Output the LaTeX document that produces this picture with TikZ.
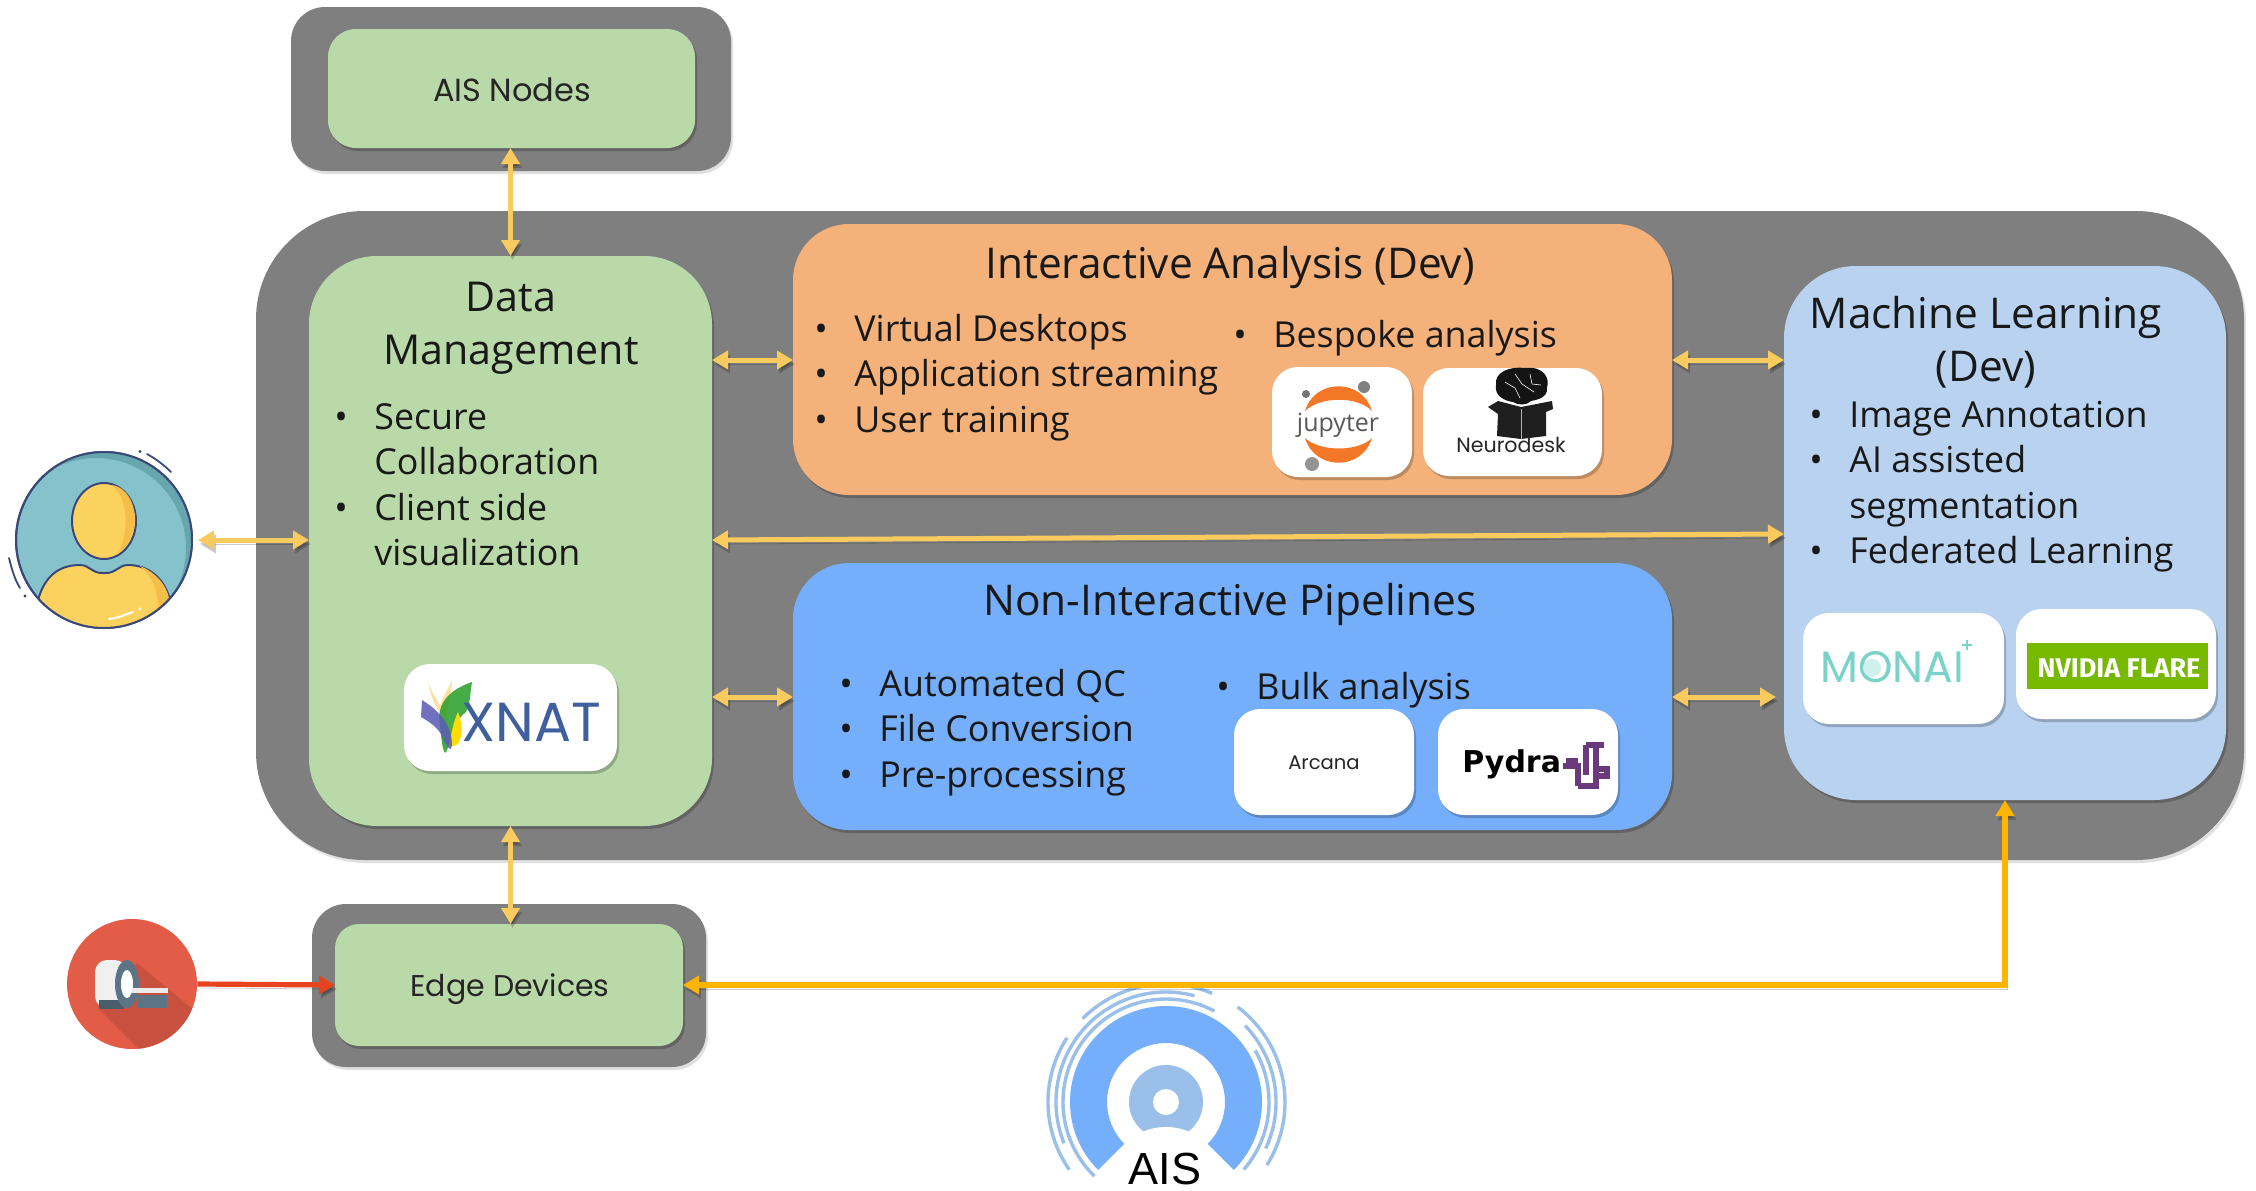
\documentclass[tikz,border=0pt]{standalone}
\usepackage{fontspec}
\setmainfont{Open Sans}
\newfontfamily\geo{Poppins}
\newfontfamily\arl{Liberation Sans}
\newfontfamily\djb{DejaVu Sans}
\newfontfamily\fir{Fira Sans}
\usetikzlibrary{arrows.meta,shadows,fit,calc}
\definecolor{grayb}{HTML}{7F7F7F}
\definecolor{greenb}{HTML}{B9DAA8}
\definecolor{orangeb}{HTML}{F4B17A}
\definecolor{blueb}{HTML}{75AEFB}
\definecolor{mlb}{HTML}{B8D2F0}
\definecolor{yarr}{HTML}{F9CB5E}
\definecolor{oarr}{HTML}{FFB400}
\definecolor{rarr}{HTML}{E8431F}
\definecolor{ring}{HTML}{9ABFE8}
\definecolor{ink}{HTML}{3A4878}
\definecolor{teal1}{HTML}{85C2CB}
\definecolor{teal2}{HTML}{68A6AD}
\definecolor{yel1}{HTML}{FCD25F}
\definecolor{yel2}{HTML}{F5BE4B}
\definecolor{scanr}{HTML}{E25C48}
\definecolor{scand}{HTML}{C85140}
\definecolor{slate}{HTML}{5D7485}
\definecolor{jor}{HTML}{F37726}
\definecolor{monai}{HTML}{7AD3C9}
\definecolor{xnat}{HTML}{3F5F9F}
\definecolor{pyd}{HTML}{6A3A7C}
\definecolor{nvgreen}{HTML}{76B900}
\newlength\bulw \setlength\bulw{17pt}
\newcommand\itm[1]{\makebox[\bulw][l]{\hspace*{-3pt}\textbullet}#1}
\newcommand\cnt[1]{\hspace*{\bulw}#1}
\newcommand\lst[1]{\begin{tabular}[t]{@{}l@{}}#1\end{tabular}}
\newcommand\ctr[1]{\begin{tabular}[t]{@{}c@{}}#1\end{tabular}}
\tikzset{
  x=0.5pt,y=-0.5pt,
  shad/.style={drop shadow={shadow xshift=1pt,shadow yshift=-1.5pt,opacity=.22,fill=black}},
  boxn/.style={inner sep=0pt,outer sep=0pt,draw=none},
  frame/.style={boxn,fill=grayb,drop shadow={shadow xshift=1pt,shadow yshift=-1.5pt,opacity=.12,fill=black}},
  logo/.style={boxn,fill=white,rounded corners=13pt,shad},
  body/.style={inner sep=0pt,anchor=base west,font=\fontsize{17.9}{22.8}\selectfont,text=black!90},
  title/.style={inner sep=0pt,anchor=base,font=\fontsize{21.2}{26.5}\selectfont,text=black!90},
  geol/.style={inner sep=0pt,anchor=center,font=\geo\fontsize{15}{17}\selectfont,text=black!85},
  ashad/.style={preaction={draw=black,opacity=.2,transform canvas={xshift=1pt,yshift=-2pt}}},
  yarrow/.style={draw=yarr,line width=2.5pt,{Triangle[width=9pt,length=8pt]}-{Triangle[width=9pt,length=8pt]},ashad},
  oarrow/.style={draw=oarr,line width=3pt,{Triangle[width=9pt,length=8pt]}-{Triangle[width=9pt,length=8pt]},ashad},
  rarrow/.style={draw=rarr,line width=2.6pt,-{Triangle[width=9pt,length=8pt]},ashad},
  rgarc/.style={draw=ring,line width=1.7pt},
}
\begin{document}
\begin{tikzpicture}
\useasboundingbox (0,0) rectangle (2256,1190);
% frames
\node[frame,rounded corners=54pt,fit={(256,211)(2244,860)}] (main) {};
\node[frame,rounded corners=17pt,fit={(291,7)(731,171)}] (aisout) {};
\node[frame,rounded corners=17pt,fit={(312,904)(706,1067)}] (edgeout) {};
\node[boxn,fill=greenb,rounded corners=14pt,shad,fit={(328,29)(695,148)}] (aisin) {};
\node[boxn,fill=greenb,rounded corners=12pt,shad,fit={(335,924)(683,1046)}] (edgein) {};
\node[geol,font=\geo\fontsize{16}{18}\selectfont] (aistxt) at (512,90) {AIS Nodes};
\node[geol] (edgetxt) at (510,989) {Edge Devices};
% panels
\node[boxn,fill=greenb,rounded corners=34pt,shad,fit={(309,256)(712,826)}] (dm) {};
\node[boxn,fill=orangeb,rounded corners=28pt,shad,fit={(793,224)(1672,495)}] (ia) {};
\node[boxn,fill=blueb,rounded corners=28pt,shad,fit={(793,563)(1672,830)}] (ni) {};
\node[boxn,fill=mlb,rounded corners=36pt,shad,fit={(1784,266)(2226,800)}] (ml) {};
% panel text
\node[title,font=\fontsize{20.6}{26.5}\selectfont] (dmt) at (511,311) {\ctr{Data\\Management}};
\node[title] (iat) at (1230,278) {Interactive Analysis (Dev)};
\node[title] (nit) at (1230,615) {Non-Interactive Pipelines};
\node[title] (mlt) at (1986,328) {\ctr{Machine Learning\\(Dev)}};
\node[body] (dml) at (340,429) {\lst{\itm{Secure}\\\cnt{Collaboration}\\\itm{Client side}\\\cnt{visualization}}};
\node[body] (ial) at (820,341) {\lst{\itm{Virtual Desktops}\\\itm{Application streaming}\\\itm{User training}}};
\node[body] (iab) at (1239,347) {\itm{Bespoke analysis}};
\node[body] (nil) at (845,696) {\lst{\itm{Automated QC}\\\itm{File Conversion}\\\itm{Pre-processing}}};
\node[body] (nib) at (1222,699) {\itm{Bulk analysis}};
\node[body] (mll) at (1815,427) {\lst{\itm{Image Annotation}\\\itm{AI assisted}\\\cnt{segmentation}\\\itm{Federated Learning}}};
% logos
\node[logo,fit={(404,664)(617,771)}] (xnatb) {};
\node[logo,fit={(1272,367)(1412,477)}] (jupb) {};
\node[logo,fit={(1423,368)(1602,476)}] (neub) {};
\node[logo,fit={(1803,613)(2004,724)}] (monb) {};
\node[logo,fit={(2016,609)(2216,719)}] (flab) {};
\node[logo,fit={(1234,709)(1414,815)}] (arcb) {};
\node[logo,fit={(1438,709)(1618,815)}] (pydb) {};
% XNAT
\fill[yellow!40!orange!35] (428,681) .. controls (432,705) and (440,712) .. (446,724) .. controls (448,705) and (452,690) .. (452,681) .. controls (446,692) and (442,700) .. (440,706) .. controls (436,698) and (430,690) .. (428,681) -- cycle;
\fill[green!55!black!85,opacity=.85] (472,682) .. controls (448,690) and (436,705) .. (440,725) .. controls (442,750) and (445,760) .. (448,747) .. controls (452,735) and (455,720) .. (466,712) .. controls (470,705) and (470,695) .. (472,682) -- cycle;
\fill[yellow!80!orange] (458,712) .. controls (465,730) and (462,750) .. (448,746) .. controls (452,735) and (452,725) .. (458,712) -- cycle;
\fill[blue!55!black!65,opacity=.85] (422,700) .. controls (435,708) and (452,722) .. (452,745) .. controls (450,755) and (448,744) .. (444,742) .. controls (442,730) and (430,722) .. (421,717) -- cycle;
\node[inner sep=0pt,anchor=base west,font=\geo\fontsize{27.5}{30}\selectfont,text=xnat] (xnatt) at (461,741) {XNAT};
% Jupyter
\fill[jor] (1305,411) .. controls (1315,378) and (1362,378) .. (1372,411) .. controls (1358,396) and (1320,396) .. (1305,411) -- cycle;
\fill[jor] (1305,438) .. controls (1315,471) and (1362,471) .. (1372,438) .. controls (1358,452) and (1320,452) .. (1305,438) -- cycle;
\fill[black!55] (1306,394) circle[radius=4];
\fill[black!50] (1364,387) circle[radius=6];
\fill[black!42] (1312,464) circle[radius=7];
\node[inner sep=0pt,font=\fontsize{12.5}{14}\selectfont,text=black!65] (jupt) at (1338,425) {jupyter};
% Neurodesk
\fill[black!92] (1496,385) .. controls (1494,372) and (1510,366) .. (1525,368) .. controls (1544,366) and (1550,378) .. (1547,388) .. controls (1548,398) and (1536,400) .. (1531,401) .. controls (1526,406) and (1518,405) .. (1513,402) .. controls (1505,401) and (1494,396) .. (1496,385) -- cycle;
\draw[white,line width=.3pt] (1505,382) -- (1515,388) -- (1520,398) (1515,374) -- (1522,384) -- (1534,392) (1530,374) -- (1532,384) -- (1541,385);
\fill[black!88] (1498,414) -- (1488,407) -- (1498,401) -- (1521,407) -- (1552,401) -- (1553,409) -- (1546,412) -- (1546,436) -- (1521,439) -- (1497,436) -- cycle;
\draw[white!70!black,line width=.4pt] (1521,409) -- (1521,439);
\node[geol,font=\geo\fontsize{10.3}{13}\selectfont] (neut) at (1511,445) {Neurodesk};
% MONAI
\node[inner sep=0pt,anchor=base west,font=\geo\fontsize{22}{24}\selectfont,text=monai] (mont) at (1820,682) {MONAI};
\fill[monai!35] (1872,668) circle[radius=9];
\draw[monai,line width=1pt] (1967,640) -- (1967,650) (1962,645) -- (1972,645);
% NVIDIA FLARE
\node[boxn,fill=nvgreen,fit={(2027,643)(2208,689)}] (flag0) {};
\node[inner sep=0pt,font=\fir\bfseries\fontsize{13.5}{15}\selectfont,text=white] (flat) at (2119,668) {NVIDIA FLARE};
% Arcana, Pydra
\node[geol,font=\geo\fontsize{9.8}{12}\selectfont] (arct) at (1324,763) {Arcana};
\node[inner sep=0pt,anchor=base west,font=\djb\bfseries\fontsize{15}{17}\selectfont,text=black] (pydt) at (1462,772) {Pydra};
\draw[pyd,line width=2.6pt,line cap=butt] (1563,766) -- (1578,766) -- (1578,786) (1566,761) -- (1578,761) (1596,745) -- (1596,786) -- (1578,786) (1586,745) -- (1604,745) (1586,745) -- (1586,775) (1596,769) -- (1607,769) -- (1607,776) -- (1596,776);
% User
\node[circle,inner sep=0pt,minimum size=88pt,draw=ink,line width=1pt,fill=teal1] (user) at (104,540) {};
\begin{scope}
\clip (104,540) circle[radius=88];
\fill[even odd rule,teal2] (104,540) circle[radius=88] (96,548) circle[radius=90];
\path[fill=yel1,draw=ink,line width=1pt] (38,600) .. controls (45,575) and (60,565) .. (80,565) .. controls (90,565) and (92,574) .. (104,573) .. controls (116,574) and (118,565) .. (128,565) .. controls (150,565) and (165,580) .. (170,600) -- (170,640) -- (38,640) -- cycle;
\fill[yel2] (140,566) .. controls (155,572) and (166,584) .. (169,598) -- (158,610) .. controls (158,590) and (152,576) .. (140,566) -- cycle;
\end{scope}
\draw[ink,line width=1pt] (104,540) circle[radius=88];
\draw[fill=yel1,draw=ink,line width=1pt] (104,521) ellipse[x radius=32,y radius=38];
\fill[yel2] (112,485) .. controls (130,488) and (136,510) .. (135,522) .. controls (134,536) and (126,548) .. (118,554) .. controls (128,535) and (130,500) .. (112,485) -- cycle;
\draw[white,line width=1pt,line cap=round] (109,619) .. controls (118,618) and (124,615) .. (133,612);
\fill[white] (140,609) circle[radius=1.6];
\draw[ink,line width=.9pt,line cap=round] (147,454) .. controls (156,459) and (164,465) .. (171,472);
\fill[ink] (140,451.5) circle[radius=1.6];
\draw[ink,line width=.9pt,line cap=round] (9,558) .. controls (12,570) and (15,580) .. (20,588);
\fill[ink] (25,596) circle[radius=1.6];
% Scanner
\node[circle,inner sep=0pt,minimum size=65pt,fill=scanr] (scan) at (132,984) {};
\begin{scope}
\clip (132,984) circle[radius=65];
\fill[scand] (137,963) -- (200,1015) -- (200,1060) -- (150,1060) -- (100,1010) -- cycle;
\end{scope}
\fill[rounded corners=6pt,fill=black!6] (95,960) rectangle (127,1008);
\fill[slate!80!black] (99,1000) rectangle (124,1009);
\fill[slate] (127,984) ellipse[x radius=12,y radius=24];
\fill[white] (127,984) ellipse[x radius=6,y radius=14];
\fill[black!8] (132,988) rectangle (168,993);
\fill[slate] (138,995) rectangle (167,1008);
% AIS logo
\def\ax{1166}\def\ay{1102}
\fill[ring] (\ax,\ay) circle[radius=37];
\fill[white] (\ax,\ay+85) circle[radius=60];
\fill[white] (\ax,\ay) circle[radius=13];
\fill[blueb] ($(\ax,\ay)+(135:96)$) arc[start angle=135,end angle=405,radius=96] -- ($(\ax,\ay)+(45:59)$) arc[start angle=405,end angle=135,radius=59] -- cycle;
\draw[rgarc] ($(\ax,\ay)+(134:103)$) arc[start angle=134,end angle=298,radius=103];
\draw[rgarc] ($(\ax,\ay)+(330:103)$) arc[start angle=330,end angle=401,radius=103];
\draw[rgarc] ($(\ax,\ay)+(158:110)$) arc[start angle=158,end angle=285,radius=110];
\draw[rgarc] ($(\ax,\ay)+(316:110)$) arc[start angle=316,end angle=385,radius=110];
\draw[rgarc] ($(\ax,\ay)+(145:118)$) arc[start angle=145,end angle=213,radius=118];
\draw[rgarc] ($(\ax,\ay)+(225:118)$) arc[start angle=225,end angle=293,radius=118];
\draw[rgarc] ($(\ax,\ay)+(307:119)$) arc[start angle=307,end angle=392,radius=119];
\node[inner sep=0pt,anchor=base,font=\arl\fontsize{22.5}{25}\selectfont,text=black] (aist) at (1165,1184) {AIS};
% connectors
\draw[yarrow] (aisin.south -| dm.north) -- (dm.north);
\draw[yarrow,shorten <=2.5pt] (user.east) -- (user.east -| dm.west);
\draw[yarrow] (dm.east |- 0,360) -- (ia.west |- 0,360);
\draw[yarrow] (ia.east |- 0,360) -- (ml.west |- 0,360);
\draw[yarrow] (dm.east |- 0,540) -- (ml.west |- 0,534);
\draw[yarrow] (dm.east |- 0,697) -- (ni.west |- 0,697);
\draw[yarrow,shorten >=4pt] (ni.east |- 0,697) -- (ml.west |- 0,697);
\draw[yarrow] (dm.south) -- (edgein.north -| dm.south);
\draw[rarrow] (scan.east) -- (edgein.west);
\draw[oarrow] (edgein.east) -- (edgein.east -| ml.south) -- (ml.south);
\end{tikzpicture}
\end{document}
